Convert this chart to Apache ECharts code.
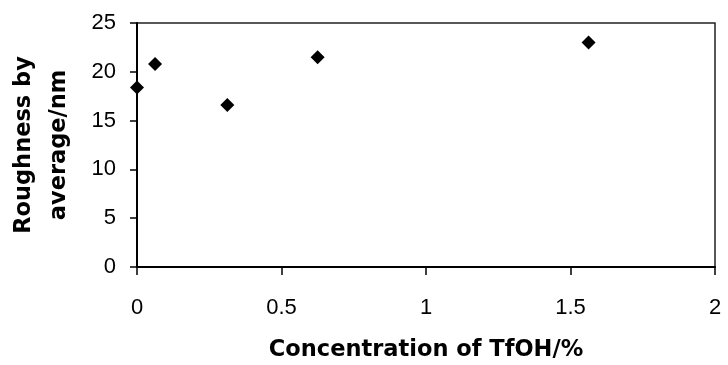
<!DOCTYPE html>
<html>
<head>
<meta charset="utf-8">
<script src="https://cdn.jsdelivr.net/npm/echarts@6/dist/echarts.min.js"></script>
<style>
  html, body { margin: 0; padding: 0; background: #ffffff; }
  #chart { width: 728px; height: 365px; }
</style>
</head>
<body>
<div id="chart"></div>
<script>
// TfOH concentration (%) and the measured average roughness (nm)
const concentration = [0, 0.0625, 0.3125, 0.625, 1.5625];
const roughness = [18.4, 20.8, 16.6, 21.5, 23.0];

const xTitle = 'Concentration of TfOH/%';
const yTitle = 'Roughness by\naverage/nm';

const points = concentration.map((c, i) => [c, roughness[i]]);

const tickFont = { color: '#000', fontFamily: '"Liberation Sans", Arial, sans-serif', fontSize: 22 };
const titleFont = { color: '#000', fontFamily: '"DejaVu Sans", sans-serif', fontWeight: 'bold', fontSize: 22.5 };

const chart = echarts.init(document.getElementById('chart'), null, { renderer: 'canvas' });
chart.setOption({
  animation: false,
  backgroundColor: '#ffffff',
  grid: {
    left: 137, right: 13, top: 23, bottom: 98,
    containLabel: false,
    outerBoundsMode: 'none',
    show: true, borderColor: '#222', borderWidth: 1.5, backgroundColor: 'transparent'
  },
  xAxis: {
    type: 'value', min: 0, max: 2, interval: 0.5,
    axisLine: { show: true, onZero: false, lineStyle: { color: '#000', width: 2 } },
    axisTick: { show: true, inside: false, length: 8, lineStyle: { color: '#000', width: 1.5 } },
    axisLabel: Object.assign({ margin: 30 }, tickFont),
    splitLine: { show: false },
    name: xTitle, nameLocation: 'middle', nameGap: 72,
    nameTextStyle: titleFont
  },
  yAxis: {
    type: 'value', min: 0, max: 25, interval: 5,
    axisLine: { show: true, onZero: false, lineStyle: { color: '#000', width: 2 } },
    axisTick: { show: true, inside: false, length: 7, lineStyle: { color: '#000', width: 1.5 } },
    axisLabel: Object.assign({ margin: 21 }, tickFont),
    splitLine: { show: false },
    name: yTitle, nameLocation: 'middle', nameGap: 60, nameRotate: 90,
    nameTextStyle: Object.assign({ lineHeight: 35, align: 'center' }, titleFont)
  },
  series: [{
    type: 'scatter',
    data: points,
    symbol: 'diamond',
    symbolSize: [14, 14],
    itemStyle: { color: '#000', opacity: 1 }
  }]
});
</script>
</body>
</html>
